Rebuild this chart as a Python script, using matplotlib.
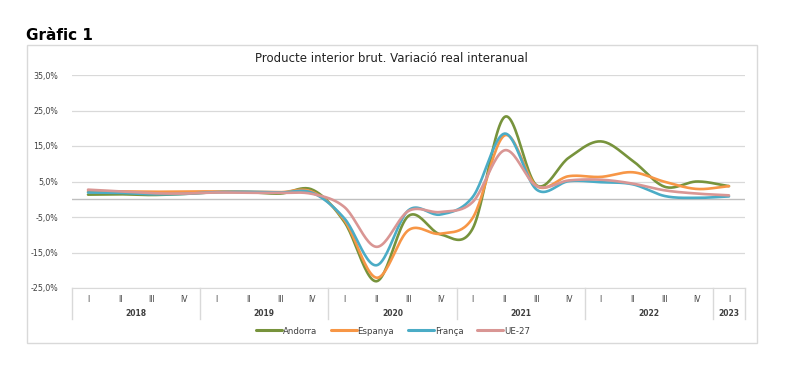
import matplotlib.pyplot as plt
import matplotlib.transforms as mtransforms
from matplotlib.patches import Rectangle
import numpy as np

# Data (% year-on-year real GDP change)
quarters = ['I', 'II', 'III', 'IV'] * 5 + ['I']
years = ['2018', '2019', '2020', '2021', '2022', '2023']
andorra = [1.3, 1.4, 1.2, 1.5, 2.0, 2.0, 1.6, 2.7,
           -6.4, -23.1, -4.7, -9.9, -8.3, 23.2, 3.9, 11.7,
           16.3, 10.8, 3.5, 5.0, 3.7]
espanya = [2.3, 2.2, 2.1, 2.2, 2.2, 2.1, 2.0, 2.1,
           -5.9, -22.1, -8.7, -9.7, -5.3, 18.0, 3.7, 6.5,
           6.3, 7.6, 4.9, 2.9, 3.7]
franca = [1.9, 1.8, 1.4, 1.5, 2.0, 2.1, 1.9, 1.8,
          -5.4, -18.6, -3.1, -4.3, 0.6, 18.5, 2.7, 5.1,
          4.8, 4.2, 0.9, 0.4, 0.8]
ue27 = [2.7, 2.2, 1.7, 1.6, 1.9, 1.8, 1.8, 1.5,
        -2.2, -13.4, -3.3, -3.6, -0.8, 13.8, 3.7, 5.3,
        5.5, 4.4, 2.5, 1.6, 1.1]

series = [('Andorra', andorra, '#77933C'),
          ('Espanya', espanya, '#F79646'),
          ('França', franca, '#4BACC6'),
          ('UE-27', ue27, '#D99694')]


def smooth(y, n=24):
    # Catmull-Rom curve through the points, like Excel's smoothed line
    y = np.asarray(y, float)
    p = np.concatenate([[2 * y[0] - y[1]], y, [2 * y[-1] - y[-2]]])
    xs, ys = [], []
    t = np.linspace(0, 1, n, endpoint=False)
    for i in range(1, len(p) - 2):
        p0, p1, p2, p3 = p[i - 1], p[i], p[i + 1], p[i + 2]
        v = 0.5 * (2 * p1 + (-p0 + p2) * t + (2 * p0 - 5 * p1 + 4 * p2 - p3) * t ** 2
                   + (-p0 + 3 * p1 - 3 * p2 + p3) * t ** 3)
        xs.extend(i - 1 + t)
        ys.extend(v)
    xs.append(len(y) - 1)
    ys.append(y[-1])
    return np.array(xs), np.array(ys)


W, H = 789, 374
fig = plt.figure(figsize=(W / 100, H / 100), dpi=100)

# outer chart frame
fig.patches.append(Rectangle((27 / W, 1 - 343 / H), 730 / W, 298 / H,
                             transform=fig.transFigure, fill=False,
                             edgecolor='#D9D9D9', linewidth=1))
fig.text(26 / W, 1 - 35 / H, 'Gràfic 1', fontsize=11, fontweight='bold',
         va='center', ha='left', color='black')
fig.text(391 / W, 1 - 58 / H, 'Producte interior brut. Variació real interanual',
         fontsize=8.5, color='#222222', ha='center', va='center')

ax = fig.add_axes([72 / W, 1 - 288 / H, 673 / W, 213 / H])
ax.set_xlim(-0.5, len(quarters) - 0.5)
ax.set_ylim(-25, 35)

yt = [-25, -15, -5, 5, 15, 25, 35]
ax.set_yticks(yt)
ax.set_yticklabels([f'{v:.1f}%'.replace('.', ',') for v in yt],
                   fontsize=5.7, color='#404040')
ax.tick_params(axis='y', length=0, pad=10)
ax.grid(axis='y', color='#D9D9D9', linewidth=0.9)
ax.axhline(0, color='#BFBFBF', linewidth=1, zorder=1)
for s in ['top', 'right', 'left']:
    ax.spines[s].set_visible(False)
ax.spines['bottom'].set_color('#D9D9D9')

ax.set_xticks(range(len(quarters)))
ax.set_xticklabels(quarters, fontsize=5.5, color='#404040')
ax.tick_params(axis='x', length=0, pad=5)

for name, vals, col in series:
    xs, ys = smooth(vals)
    ax.plot(xs, ys, color=col, linewidth=1.9, label=name, zorder=3,
            solid_capstyle='round')

# year level of the category axis
trans = mtransforms.blended_transform_factory(ax.transData, ax.transAxes)
bounds = [-0.5, 3.5, 7.5, 11.5, 15.5, 19.5, 20.5]
for b in bounds:
    ax.plot([b, b], [0, -0.145], transform=trans, color='#D9D9D9',
            linewidth=1, clip_on=False)
for i, yr in enumerate(years):
    xc = (bounds[i] + bounds[i + 1]) / 2
    ax.text(xc, -0.122, yr, transform=trans, ha='center', va='center',
            fontsize=5.5, color='#404040', fontweight='bold')

leg = fig.legend(loc='center', bbox_to_anchor=(393 / W, 1 - 331 / H), ncol=4,
                 frameon=False, fontsize=6.2, handlelength=3.0,
                 columnspacing=1.6, handletextpad=0.1, labelcolor='#404040')
for line in leg.get_lines():
    line.set_linewidth(2.2)

plt.savefig('out.png', dpi=100)
